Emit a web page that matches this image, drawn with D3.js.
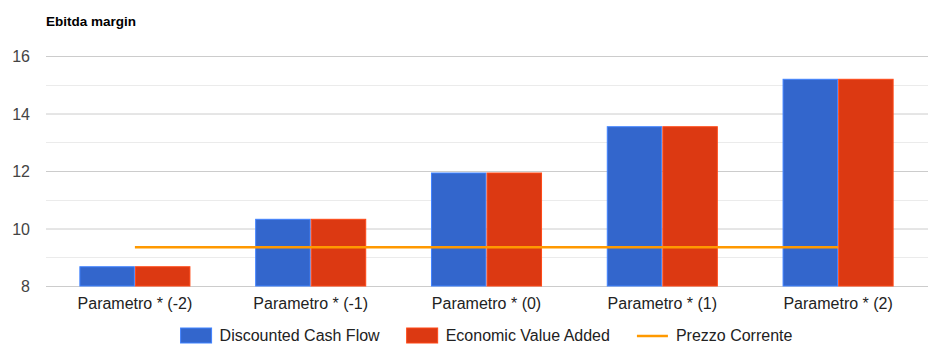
<!DOCTYPE html>
<html>
<head>
<meta charset="utf-8">
<script src="https://cdn.jsdelivr.net/npm/d3@7"></script>
<style>
  body { margin: 0; background: #fff; }
  svg text { font-family: "Liberation Sans", Arial, sans-serif; }
</style>
</head>
<body>
<svg id="chart" width="952" height="348"></svg>
<script>
/* Ebitda margin - grouped bars with current price line */

var categories = ["Parametro * (-2)", "Parametro * (-1)", "Parametro * (0)", "Parametro * (1)", "Parametro * (2)"];
var dcf = [8.67, 10.32, 11.93, 13.54, 15.19];          // Discounted Cash Flow
var eva = [8.67, 10.32, 11.93, 13.54, 15.19];          // Economic Value Added
var prezzo = [9.35, 9.35, 9.35, 9.35, 9.35];            // Prezzo Corrente
var seriesNames = ["Discounted Cash Flow", "Economic Value Added", "Prezzo Corrente"];
var yTicks = [8, 10, 12, 14, 16];
var yMinor = [9, 11, 13, 15];

var colors = ["#3366cc", "#dc3912", "#ff9900"];

var plotLeft = 47, plotRight = 926, plotTop = 56, plotBottom = 286;

var svg = d3.select("#chart");

var x = d3.scaleBand()
    .domain(categories)
    .range([plotLeft, plotRight])
    .paddingInner(0.374)
    .paddingOuter(0.187);

var xSeries = d3.scaleBand()
    .domain([0, 1])
    .range([0, x.bandwidth()])
    .paddingInner(0.02);

var y = d3.scaleLinear()
    .domain([8, 16])
    .range([plotBottom, plotTop]);

// title
svg.append("text")
    .attr("x", 46)
    .attr("y", 26)
    .attr("font-size", 13.5)
    .attr("font-weight", "bold")
    .attr("fill", "#000")
    .text("Ebitda margin");

// minor gridlines
svg.append("g")
  .selectAll("line")
  .data(yMinor)
  .enter().append("line")
    .attr("x1", 46).attr("x2", 928)
    .attr("y1", function(d) { return Math.round(y(d)) + 0.5; })
    .attr("y2", function(d) { return Math.round(y(d)) + 0.5; })
    .attr("stroke", "#ebebeb");

// y axis with major gridlines
var yAxis = svg.append("g")
    .attr("transform", "translate(46,0)")
    .call(d3.axisLeft(y).tickValues(yTicks).tickSize(-882).tickPadding(16));
yAxis.select(".domain").remove();
yAxis.selectAll(".tick line").attr("stroke", "#cccccc");
yAxis.selectAll(".tick text")
    .attr("font-size", 16)
    .attr("fill", "#444")
    .attr("dy", "0.36em");

// bars
var groups = svg.append("g")
  .selectAll("g")
  .data(categories)
  .enter().append("g")
    .attr("transform", function(d) { return "translate(" + x(d) + ",0)"; });

groups.selectAll("rect")
  .data(function(d, i) { return [dcf[i], eva[i]]; })
  .enter().append("rect")
    .attr("x", function(d, j) { return xSeries(j); })
    .attr("y", function(d) { return y(d); })
    .attr("width", xSeries.bandwidth())
    .attr("height", function(d) { return y(8) - y(d); })
    .attr("fill", function(d, j) { return colors[j]; })
    .attr("stroke", function(d, j) { return d3.color(colors[j]).brighter(0.7); })
    .attr("stroke-width", 1);

// price line
var line = d3.line()
    .x(function(d, i) { return x(categories[i]) + x.bandwidth() / 2; })
    .y(function(d) { return y(d); });

svg.append("path")
    .datum(prezzo)
    .attr("d", line)
    .attr("fill", "none")
    .attr("stroke", colors[2])
    .attr("stroke-width", 2.5);

// x labels
var xAxis = svg.append("g")
    .attr("transform", "translate(0," + plotBottom + ")")
    .call(d3.axisBottom(x).tickSize(0).tickPadding(12));
xAxis.select(".domain").remove();
xAxis.selectAll(".tick text")
    .attr("font-size", 16)
    .attr("fill", "#222")
    .attr("dy", "0.71em");

// legend
var legend = svg.append("g");
var items = legend.selectAll("g")
  .data(seriesNames)
  .enter().append("g");

items.append("text")
    .attr("x", 40)
    .attr("y", 341)
    .attr("font-size", 16)
    .attr("fill", "#222")
    .text(function(d) { return d; });

items.each(function(d, i) {
  var g = d3.select(this);
  if (i < 2) {
    g.append("rect")
      .attr("x", 0).attr("y", 328)
      .attr("width", 31).attr("height", 15)
      .attr("fill", colors[i])
      .attr("stroke", d3.color(colors[i]).brighter(0.7));
  } else {
    g.append("line")
      .attr("x1", 0).attr("x2", 31)
      .attr("y1", 336).attr("y2", 336)
      .attr("stroke", colors[i])
      .attr("stroke-width", 2.5);
  }
  g.select("text").attr("x", 39);
});

var offset = 0, widths = [];
items.each(function(d, i) {
  var w = 39 + this.querySelector("text").getComputedTextLength();
  widths.push(w);
});
var total = d3.sum(widths) + 27 * (widths.length - 1);
var start = (plotLeft + plotRight) / 2 - total / 2;
items.attr("transform", function(d, i) {
  var tx = start + offset;
  offset += widths[i] + 27;
  return "translate(" + tx + ",0)";
});
</script>
</body>
</html>
